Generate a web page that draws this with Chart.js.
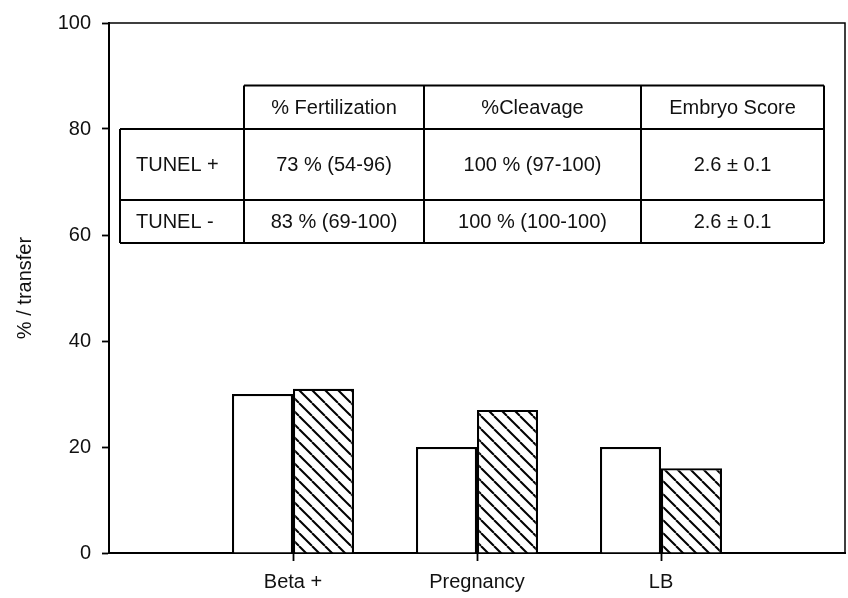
<!DOCTYPE html>
<html>
<head>
<meta charset="utf-8">
<script src="https://cdn.jsdelivr.net/npm/chart.js@4.4.1/dist/chart.umd.min.js"></script>
<style>
  html, body { margin: 0; padding: 0; background: #ffffff; }
  #wrap { width: 848px; height: 598px; }
</style>
</head>
<body>
<div id="wrap"><canvas id="c" width="848" height="598"></canvas></div>
<script>
// ---- data ----
const categories = ['', 'Beta +', 'Pregnancy', 'LB', ''];
const tunelPos = [null, 30, 20, 20, null];   // white bars
const tunelNeg = [null, 31, 27, 16, null];   // hatched bars
const yTicks = [0, 20, 40, 60, 80, 100];
const yTitle = '% / transfer';

// inset table
const tableHeader = ['% Fertilization', '%Cleavage', 'Embryo Score'];
const tableRowLabels = ['TUNEL +', 'TUNEL -'];
const tableRows = [
  ['73 % (54-96)', '100 % (97-100)', '2.6 \u00B1 0.1'],
  ['83 % (69-100)', '100 % (100-100)', '2.6 \u00B1 0.1']
];

// ---- hatch pattern ----
function makeHatch() {
  const s = 13;
  const p = document.createElement('canvas');
  p.width = s; p.height = s;
  const g = p.getContext('2d');
  g.fillStyle = '#ffffff';
  g.fillRect(0, 0, s, s);
  g.strokeStyle = '#000000';
  g.lineWidth = 2;
  [-s, 0, s].forEach(function (o) {
    g.beginPath();
    g.moveTo(o, 0);
    g.lineTo(o + s, s);
    g.stroke();
  });
  return g.createPattern(p, 'repeat');
}
const hatch = makeHatch();

const FONT = 'Arial, "Liberation Sans", sans-serif';

// frame (top/right) + inset table
const framePlugin = {
  id: 'frameAndTable',
  afterDraw(chart) {
    const ctx = chart.ctx;
    const a = chart.chartArea;
    const y = chart.scales.y;
    ctx.save();
    ctx.strokeStyle = '#000';
    ctx.lineWidth = 1.5;
    ctx.beginPath();
    ctx.moveTo(a.left, a.top);
    ctx.lineTo(a.right, a.top);
    ctx.lineTo(a.right, a.bottom);
    ctx.stroke();

    // table geometry
    const xs = [120, 244, 424, 641, 824];
    const yHeadTop = y.getPixelForValue(88.2);
    const yHeadBot = y.getPixelForValue(80);
    const yMid = y.getPixelForValue(66.6);
    const yBot = y.getPixelForValue(58.5);
    ctx.fillStyle = '#ffffff';
    ctx.fillRect(xs[1], yHeadTop, xs[4] - xs[1], yHeadBot - yHeadTop);
    ctx.fillRect(xs[0], yHeadBot, xs[4] - xs[0], yBot - yHeadBot);
    ctx.lineWidth = 2;
    ctx.strokeStyle = '#000';
    ctx.beginPath();
    ctx.moveTo(xs[1], yHeadTop); ctx.lineTo(xs[4], yHeadTop);
    ctx.moveTo(xs[0], yHeadBot); ctx.lineTo(xs[4], yHeadBot);
    ctx.moveTo(xs[0], yMid); ctx.lineTo(xs[4], yMid);
    ctx.moveTo(xs[0], yBot); ctx.lineTo(xs[4], yBot);
    ctx.moveTo(xs[0], yHeadBot); ctx.lineTo(xs[0], yBot);
    for (let i = 1; i < xs.length; i++) {
      ctx.moveTo(xs[i], yHeadTop); ctx.lineTo(xs[i], yBot);
    }
    ctx.stroke();

    ctx.fillStyle = '#111';
    ctx.font = '20px ' + FONT;
    ctx.textBaseline = 'middle';
    ctx.textAlign = 'center';
    tableHeader.forEach(function (t, i) {
      ctx.fillText(t, (xs[i + 1] + xs[i + 2]) / 2, (yHeadTop + yHeadBot) / 2 + 1);
    });
    const rowMids = [(yHeadBot + yMid) / 2 + 1, (yMid + yBot) / 2 + 1];
    tableRows.forEach(function (row, r) {
      ctx.textAlign = 'left';
      ctx.fillText(tableRowLabels[r], 136, rowMids[r]);
      ctx.textAlign = 'center';
      row.forEach(function (t, i) {
        ctx.fillText(t, (xs[i + 1] + xs[i + 2]) / 2, rowMids[r]);
      });
    });
    ctx.restore();
  }
};

new Chart(document.getElementById('c'), {
  type: 'bar',
  data: {
    labels: categories,
    datasets: [
      {
        label: 'TUNEL +',
        data: tunelPos,
        backgroundColor: '#ffffff',
        borderColor: '#000000',
        borderWidth: 2.2,
        borderSkipped: 'bottom',
        categoryPercentage: 0.663,
        barPercentage: 1.0
      },
      {
        label: 'TUNEL -',
        data: tunelNeg,
        backgroundColor: hatch,
        borderColor: '#000000',
        borderWidth: 2.2,
        borderSkipped: 'bottom',
        categoryPercentage: 0.663,
        barPercentage: 1.0
      }
    ]
  },
  options: {
    responsive: false,
    animation: false,
    devicePixelRatio: 1,
    layout: { padding: { top: 21, right: 3, left: 0, bottom: 0 } },
    plugins: {
      legend: { display: false },
      tooltip: { enabled: false },
      title: { display: false }
    },
    scales: {
      x: {
        type: 'category',
        offset: false,
        grid: {
          display: true,
          offset: false,
          drawOnChartArea: false,
          drawTicks: true,
          tickLength: 8,
          tickWidth: 1.8,
          tickColor: '#000'
        },
        border: { display: true, color: '#000', width: 2 },
        ticks: {
          color: '#111',
          font: { family: FONT, size: 20 },
          padding: 9,
          maxRotation: 0,
          autoSkip: false,
          callback: function (v, i) {
            const l = categories[i];
            return l === '' ? null : l;
          }
        },
        afterFit: function (s) { s.height = 45; }
      },
      y: {
        min: 0,
        max: 100,
        afterBuildTicks: function (s) {
          s.ticks = yTicks.map(function (v) { return { value: v }; });
        },
        grid: {
          display: true,
          drawOnChartArea: false,
          drawTicks: true,
          tickLength: 7,
          tickWidth: 1.8,
          tickColor: '#000'
        },
        border: { display: true, color: '#000', width: 2 },
        ticks: {
          color: '#111',
          font: { family: FONT, size: 20 },
          padding: 11
        },
        title: {
          display: true,
          text: yTitle,
          color: '#111',
          font: { family: FONT, size: 20 },
          padding: { top: 13, bottom: 0 }
        },
        afterFit: function (s) { s.width = 109; }
      }
    }
  },
  plugins: [framePlugin]
});
</script>
</body>
</html>
